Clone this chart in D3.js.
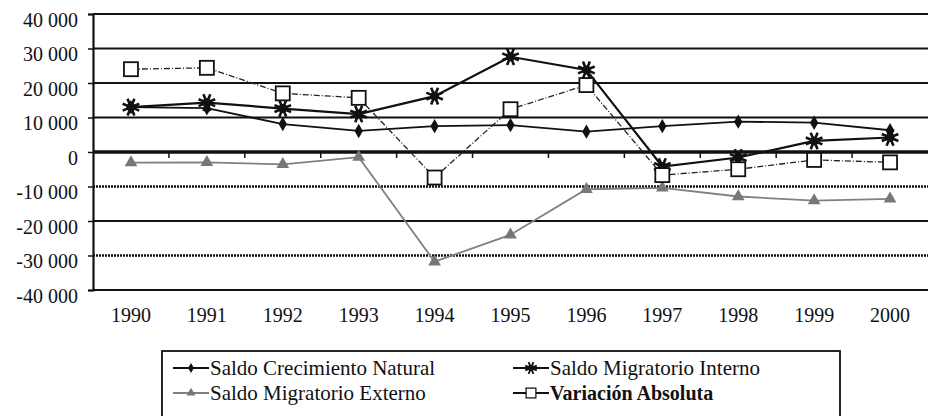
<!DOCTYPE html>
<html>
<head>
<meta charset="utf-8">
<script src="https://cdn.jsdelivr.net/npm/d3@7"></script>
<style>
  body { margin: 0; background: #fff; }
</style>
</head>
<body>
<svg id="chart" width="929" height="416"></svg>
<script>
const years = ["1990","1991","1992","1993","1994","1995","1996","1997","1998","1999","2000"];
const yTicks = [40000, 30000, 20000, 10000, 0, -10000, -20000, -30000, -40000];

const natural  = [13000, 12700, 8100, 6100, 7500, 7800, 5900, 7500, 8800, 8500, 6300];
const interno  = [13000, 14300, 12600, 11000, 16200, 27600, 23800, -4200, -1600, 3200, 4200];
const externo  = [-3100, -3000, -3600, -1500, -31800, -24000, -10800, -10400, -12900, -14100, -13600];
const variacion = [24000, 24400, 17000, 15700, -7400, 12400, 19400, -6700, -5000, -2300, -3000];

const seriesNames = ["Saldo Crecimiento Natural", "Saldo Migratorio Interno", "Saldo Migratorio Externo", "Variación Absoluta"];

const FONT = "Liberation Serif";

const svg = d3.select("#chart");
const margin = {top: 14, right: 1, bottom: 126, left: 93};
const width = 929, height = 416;

const x = d3.scaleBand().domain(years).range([margin.left, width - margin.right]);
const y = d3.scaleLinear().domain([-40000, 40000]).range([height - margin.bottom, margin.top]);

const fmt = v => (v < 0 ? "-" : "") + d3.format(",")(Math.abs(v)).replace(/,/g, " ");

// grid
const grid = svg.append("g");
yTicks.forEach(t => {
  const dotted = (t === -10000 || t === -30000);
  grid.append("line")
    .attr("x1", margin.left).attr("x2", width - margin.right)
    .attr("y1", y(t)).attr("y2", y(t))
    .attr("stroke", "#111")
    .attr("stroke-width", t === 0 ? 3.5 : (dotted ? 2.4 : 1.8))
    .attr("stroke-dasharray", dotted ? "2,1" : null);
});

// y axis
const yAxis = svg.append("g")
  .attr("transform", `translate(${margin.left},0)`)
  .call(d3.axisLeft(y).tickValues(yTicks).tickFormat(fmt).tickSize(5).tickPadding(10));
yAxis.attr("font-family", FONT).attr("font-size", 20);
yAxis.select(".domain").attr("stroke", "#111").attr("stroke-width", 2.2);
yAxis.selectAll(".tick line").attr("stroke", "#111").attr("stroke-width", 1.5);
yAxis.selectAll("text").attr("font-family", FONT).attr("font-size", 20)
  .attr("fill", "#111").attr("dy", "0.62em");

// x ticks on zero line at category boundaries
const xt = svg.append("g");
years.slice(1).forEach(yr => {
  xt.append("line")
    .attr("x1", x(yr)).attr("x2", x(yr))
    .attr("y1", y(0)).attr("y2", y(0) + 6)
    .attr("stroke", "#111").attr("stroke-width", 1.5);
});

// year labels
svg.append("g").selectAll("text").data(years).join("text")
  .attr("x", d => x(d) + x.bandwidth() / 2)
  .attr("y", 322)
  .attr("text-anchor", "middle")
  .attr("font-family", FONT)
  .attr("font-size", 20)
  .attr("fill", "#111")
  .text(d => d);

const cx = (_, i) => x(years[i]) + x.bandwidth() / 2;
const line = d3.line().x(cx).y(d => y(d));

const starPath = (() => {
  let p = "";
  for (let k = 0; k < 8; k++) {
    const a = k * Math.PI / 4 + Math.PI / 8;
    const r = 9;
    p += `M0,0L${(r * Math.cos(a)).toFixed(2)},${(r * Math.sin(a)).toFixed(2)}`;
  }
  return p;
})();

function drawSeries(data, opts) {
  const g = svg.append("g");
  g.append("path").datum(data)
    .attr("d", line)
    .attr("fill", "none")
    .attr("stroke", opts.color)
    .attr("stroke-width", opts.width)
    .attr("stroke-dasharray", opts.dash || null);
  const pts = g.selectAll("g.pt").data(data).join("g")
    .attr("transform", (d, i) => `translate(${cx(d, i)},${y(d)})`);
  opts.marker(pts);
}

const diamond = sel => sel.append("path")
  .attr("d", d3.symbol(d3.symbolDiamond, 60)).attr("fill", "#111");
const star = sel => {
  sel.append("path").attr("d", starPath).attr("stroke", "#111").attr("stroke-width", 2.6);
  sel.append("circle").attr("r", 4.5).attr("fill", "#111");
};
const triangle = sel => sel.append("path")
  .attr("d", d3.symbol(d3.symbolTriangle, 70)).attr("fill", "#777");
const square = sel => sel.append("rect")
  .attr("x", -7).attr("y", -7).attr("width", 14).attr("height", 14)
  .attr("fill", "#fff").attr("stroke", "#111").attr("stroke-width", 1.8);

drawSeries(externo, {color: "#808080", width: 1.8, marker: triangle});
drawSeries(natural, {color: "#111", width: 1.8, marker: diamond});
drawSeries(interno, {color: "#111", width: 2.2, marker: star});
drawSeries(variacion, {color: "#222", width: 1.3, dash: "6,2,1,2", marker: square});

// legend
const lg = svg.append("g");
lg.append("rect").attr("x", 162).attr("y", 351).attr("width", 678).attr("height", 80)
  .attr("fill", "#fff").attr("stroke", "#111").attr("stroke-width", 1.8);

const legendItems = [
  {name: seriesNames[0], lx: 173, ly: 368, color: "#111", marker: diamond},
  {name: seriesNames[1], lx: 513, ly: 368, color: "#111", marker: star},
  {name: seriesNames[2], lx: 173, ly: 393, color: "#808080", marker: triangle},
  {name: seriesNames[3], lx: 513, ly: 393, color: "#111", marker: square, bold: true}
];
legendItems.forEach(it => {
  const g = lg.append("g");
  g.append("line").attr("x1", it.lx).attr("x2", it.lx + 36)
    .attr("y1", it.ly).attr("y2", it.ly)
    .attr("stroke", it.color).attr("stroke-width", 1.8);
  const m = g.append("g").attr("transform", `translate(${it.lx + 18},${it.ly}) scale(0.7)`);
  it.marker(m);
  g.append("text").attr("x", it.lx + 37).attr("y", it.ly + 7)
    .attr("font-family", FONT)
    .attr("font-size", it.bold ? 20 : 21).attr("fill", "#111")
    .attr("font-weight", it.bold ? "bold" : null)
    .text(it.name);
});
</script>
</body>
</html>
